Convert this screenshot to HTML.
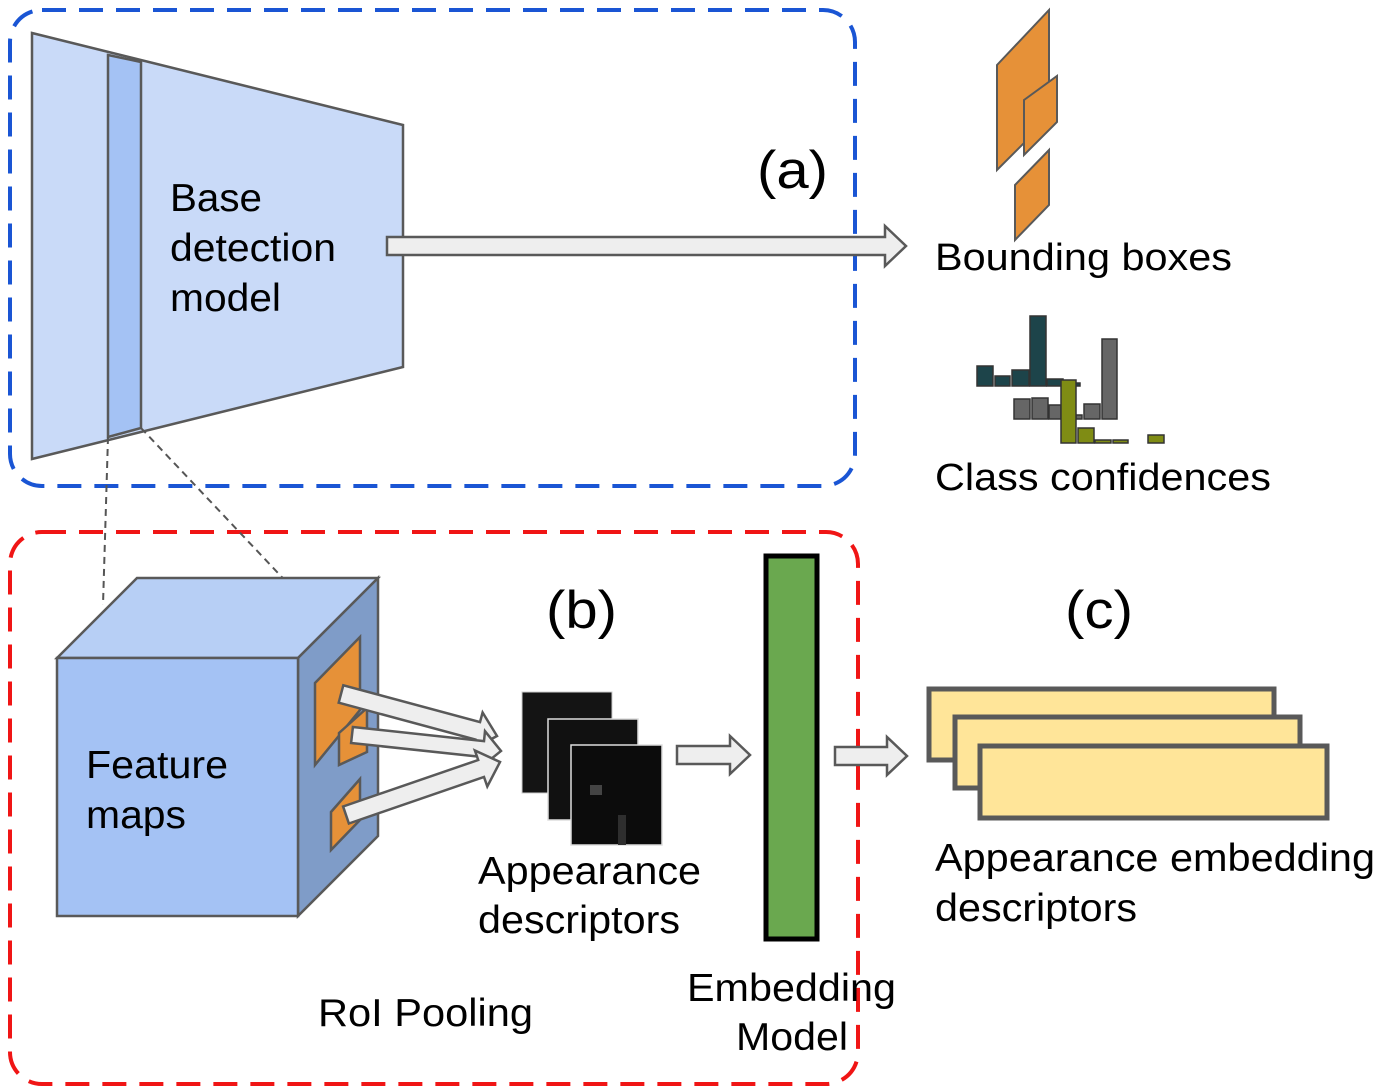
<!DOCTYPE html>
<html><head><meta charset="utf-8"><style>
html,body{margin:0;padding:0;background:#fff;}
svg{display:block;}
text{font-family:"Liberation Sans",Arial,sans-serif;fill:#000;}
</style></head><body>
<svg id="s" width="1380" height="1091" viewBox="0 0 1380 1091" xmlns="http://www.w3.org/2000/svg">
<rect x="10" y="10" width="845" height="476" rx="32" fill="none" stroke="#1a55d4" stroke-width="4" stroke-dasharray="24,13"/>
<rect x="10" y="532" width="848" height="552" rx="32" fill="none" stroke="#f01515" stroke-width="4" stroke-dasharray="24,13"/>
<polygon points="32,33 403,125 403,367 32,459" fill="#c9daf8" stroke="#595959" stroke-width="2.5"/>
<polygon points="108,55 141,62 141,428 108,437" fill="#a4c2f4" stroke="#595959" stroke-width="2.5"/>
<text x="170" y="211" font-size="39" textLength="92" lengthAdjust="spacingAndGlyphs">Base</text>
<text x="170" y="261" font-size="39" textLength="166" lengthAdjust="spacingAndGlyphs">detection</text>
<text x="170" y="311" font-size="39" textLength="111" lengthAdjust="spacingAndGlyphs">model</text>
<text x="757" y="188" font-size="53" textLength="71" lengthAdjust="spacingAndGlyphs">(a)</text>
<polygon points="997,65 1049,10 1049,118 997,170" fill="#e69138" stroke="#595959" stroke-width="2"/>
<polygon points="1024,100 1057,76 1057,122 1024,155" fill="#e69138" stroke="#595959" stroke-width="2"/>
<polygon points="1015,185 1049,150 1049,205 1015,240" fill="#e69138" stroke="#595959" stroke-width="2"/>
<text x="935" y="270" font-size="38" textLength="297" lengthAdjust="spacingAndGlyphs">Bounding boxes</text>
<g stroke="#333" stroke-width="1.5">
<rect x="977" y="366" width="16" height="20" fill="#1d444a"/>
<rect x="995" y="376" width="15" height="10" fill="#1d444a"/>
<rect x="1012" y="370" width="17" height="16" fill="#1d444a"/>
<rect x="1030" y="316" width="16" height="70" fill="#1d444a"/>
<rect x="1047" y="379" width="16" height="7" fill="#1d444a"/>
<rect x="1063" y="383" width="17" height="3" fill="#1d444a"/>
<rect x="1014" y="399" width="16" height="20" fill="#666"/>
<rect x="1032" y="398" width="16" height="21" fill="#666"/>
<rect x="1049" y="405" width="12" height="14" fill="#666"/>
<rect x="1076" y="415" width="6" height="4" fill="#666"/>
<rect x="1084" y="404" width="16" height="15" fill="#666"/>
<rect x="1102" y="339" width="15" height="80" fill="#666"/>
<rect x="1061" y="380" width="15" height="63" fill="#7f8c14"/>
<rect x="1078" y="428" width="16" height="15" fill="#7f8c14"/>
<rect x="1095" y="440" width="16" height="3" fill="#7f8c14"/>
<rect x="1113" y="440" width="15" height="3" fill="#7f8c14"/>
<rect x="1148" y="435" width="16" height="8" fill="#7f8c14"/>
</g>
<text x="935" y="490" font-size="38" textLength="336" lengthAdjust="spacingAndGlyphs">Class confidences</text>
<line x1="108" y1="437" x2="103" y2="605" stroke="#555" stroke-width="2" stroke-dasharray="7,5"/>
<line x1="141" y1="428" x2="330" y2="628" stroke="#555" stroke-width="2" stroke-dasharray="7,5"/>
<polygon points="57,658 137,578 378,578 298,658" fill="#b7cff5" stroke="#595959" stroke-width="2.5"/>
<polygon points="298,658 378,578 378,836 298,916" fill="#7f9cc8" stroke="#595959" stroke-width="2.5"/>
<rect x="57" y="658" width="241" height="258" fill="#a4c2f4" stroke="#595959" stroke-width="2.5"/>
<polygon points="315,683 360,637 360,710 315,765" fill="#e69138" stroke="#595959" stroke-width="2.5"/>
<polygon points="339,733 367,708 367,752 339,765" fill="#e69138" stroke="#595959" stroke-width="2.5"/>
<polygon points="331,812 360,779 360,820 331,850" fill="#e69138" stroke="#595959" stroke-width="2.5"/>
<text x="86" y="778" font-size="39" textLength="142" lengthAdjust="spacingAndGlyphs">Feature</text>
<text x="86" y="828" font-size="39" textLength="100" lengthAdjust="spacingAndGlyphs">maps</text>
<rect x="522" y="692" width="90" height="101" fill="#141414" stroke="#ccc" stroke-width="1"/>
<rect x="548" y="719" width="90" height="101" fill="#111" stroke="#ddd" stroke-width="1.5"/>
<rect x="571" y="745" width="91" height="100" fill="#0c0c0c" stroke="#ddd" stroke-width="1.5"/>
<rect x="590" y="785" width="12" height="10" fill="#444"/>
<rect x="618" y="815" width="8" height="30" fill="#2e2e2e"/>
<text x="546" y="628" font-size="53" textLength="71" lengthAdjust="spacingAndGlyphs">(b)</text>
<text x="478" y="884" font-size="39" textLength="223" lengthAdjust="spacingAndGlyphs">Appearance</text>
<text x="478" y="933" font-size="39" textLength="202" lengthAdjust="spacingAndGlyphs">descriptors</text>
<rect x="766" y="556" width="51" height="383" fill="#6aa84f" stroke="#000" stroke-width="5"/>
<text x="687" y="1001" font-size="39" textLength="209" lengthAdjust="spacingAndGlyphs">Embedding</text>
<text x="736" y="1050" font-size="39" textLength="112" lengthAdjust="spacingAndGlyphs">Model</text>
<text x="318" y="1026" font-size="39" textLength="215" lengthAdjust="spacingAndGlyphs">RoI Pooling</text>
<text x="1065" y="628" font-size="53" textLength="68" lengthAdjust="spacingAndGlyphs">(c)</text>
<rect x="929" y="689" width="345" height="71" fill="#ffe599" stroke="#595959" stroke-width="5"/>
<rect x="955" y="717" width="345" height="71" fill="#ffe599" stroke="#595959" stroke-width="5"/>
<rect x="980" y="746" width="347" height="72" fill="#ffe599" stroke="#595959" stroke-width="5"/>
<text x="935" y="871" font-size="39" textLength="440" lengthAdjust="spacingAndGlyphs">Appearance embedding</text>
<text x="935" y="921" font-size="39" textLength="202" lengthAdjust="spacingAndGlyphs">descriptors</text>
<g id="arrows"></g>
</svg>
<script>
function arrow(x1,y1,x2,y2,h,H,L){
 var dx=x2-x1,dy=y2-y1,len=Math.hypot(dx,dy),ux=dx/len,uy=dy/len,nx=-uy,ny=ux;
 var bx=x2-ux*L,by=y2-uy*L;
 var p=[[x1+nx*h,y1+ny*h],[bx+nx*h,by+ny*h],[bx+nx*H,by+ny*H],[x2,y2],[bx-nx*H,by-ny*H],[bx-nx*h,by-ny*h],[x1-nx*h,y1-ny*h]];
 var el=document.createElementNS("http://www.w3.org/2000/svg","polygon");
 el.setAttribute("points",p.map(function(q){return q[0].toFixed(1)+","+q[1].toFixed(1)}).join(" "));
 el.setAttribute("fill","#eeeeee");el.setAttribute("stroke","#595959");el.setAttribute("stroke-width","2.5");
 document.getElementById("arrows").appendChild(el);
}
arrow(387,246,906,246,9,20,21);
arrow(341,694,497,736,9,19,20);
arrow(352,735,501,751,8,18,18);
arrow(346,815,500,762,9,19,20);
arrow(677,755,750,755,9,19,20);
arrow(835,756,907,756,9,19,20);
</script>
</body></html>
